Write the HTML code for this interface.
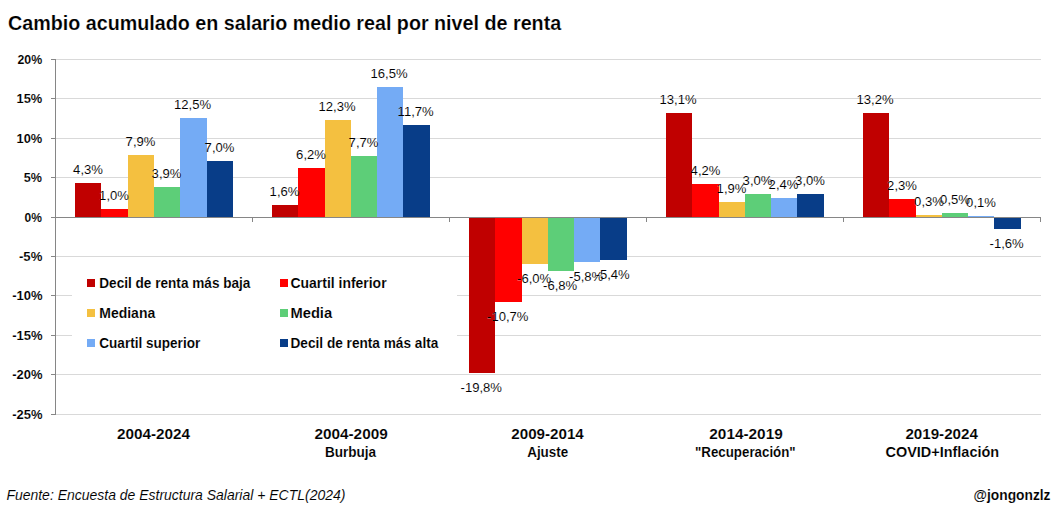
<!DOCTYPE html>
<html><head><meta charset="utf-8"><style>
html,body{margin:0;padding:0;background:#fff;width:1059px;height:517px;overflow:hidden}
svg{display:block}
text{font-family:"Liberation Sans",sans-serif;fill:#000}
</style></head><body>
<svg width="1059" height="517" viewBox="0 0 1059 517" shape-rendering="crispEdges">
<rect width="1059" height="517" fill="#fff"/>
<rect x="55" y="59" width="986" height="1" fill="#D9D9D9"/>
<rect x="55" y="98" width="986" height="1" fill="#D9D9D9"/>
<rect x="55" y="138" width="986" height="1" fill="#D9D9D9"/>
<rect x="55" y="177" width="986" height="1" fill="#D9D9D9"/>
<rect x="55" y="256" width="986" height="1" fill="#D9D9D9"/>
<rect x="55" y="295" width="986" height="1" fill="#D9D9D9"/>
<rect x="55" y="335" width="986" height="1" fill="#D9D9D9"/>
<rect x="55" y="374" width="986" height="1" fill="#D9D9D9"/>
<rect x="55" y="414" width="986" height="1" fill="#D9D9D9"/>
<rect x="75" y="183" width="26" height="34" fill="#C00000"/>
<rect x="101" y="209" width="27" height="8" fill="#FF0000"/>
<rect x="128" y="155" width="26" height="62" fill="#F4C040"/>
<rect x="154" y="187" width="26" height="30" fill="#5DCE78"/>
<rect x="180" y="118" width="27" height="99" fill="#74ABF5"/>
<rect x="207" y="161" width="26" height="56" fill="#083D88"/>
<rect x="272" y="205" width="26" height="12" fill="#C00000"/>
<rect x="298" y="168" width="27" height="49" fill="#FF0000"/>
<rect x="325" y="120" width="26" height="97" fill="#F4C040"/>
<rect x="351" y="156" width="26" height="61" fill="#5DCE78"/>
<rect x="377" y="87" width="26" height="130" fill="#74ABF5"/>
<rect x="403" y="125" width="27" height="92" fill="#083D88"/>
<rect x="469" y="217" width="26" height="156" fill="#C00000"/>
<rect x="495" y="217" width="27" height="85" fill="#FF0000"/>
<rect x="522" y="217" width="26" height="47" fill="#F4C040"/>
<rect x="548" y="217" width="26" height="54" fill="#5DCE78"/>
<rect x="574" y="217" width="26" height="45" fill="#74ABF5"/>
<rect x="600" y="217" width="27" height="43" fill="#083D88"/>
<rect x="666" y="113" width="26" height="104" fill="#C00000"/>
<rect x="692" y="184" width="27" height="33" fill="#FF0000"/>
<rect x="719" y="202" width="26" height="15" fill="#F4C040"/>
<rect x="745" y="194" width="26" height="23" fill="#5DCE78"/>
<rect x="771" y="198" width="26" height="19" fill="#74ABF5"/>
<rect x="797" y="194" width="27" height="23" fill="#083D88"/>
<rect x="863" y="113" width="26" height="104" fill="#C00000"/>
<rect x="889" y="199" width="27" height="18" fill="#FF0000"/>
<rect x="916" y="215" width="26" height="2" fill="#F4C040"/>
<rect x="942" y="213" width="26" height="4" fill="#5DCE78"/>
<rect x="968" y="216" width="26" height="1" fill="#74ABF5"/>
<rect x="994" y="217" width="27" height="12" fill="#083D88"/>
<rect x="55" y="217" width="986" height="1" fill="#868686"/>
<rect x="55" y="59" width="1" height="356" fill="#868686"/>
<rect x="51" y="59" width="4" height="1" fill="#868686"/>
<rect x="51" y="98" width="4" height="1" fill="#868686"/>
<rect x="51" y="138" width="4" height="1" fill="#868686"/>
<rect x="51" y="177" width="4" height="1" fill="#868686"/>
<rect x="51" y="217" width="4" height="1" fill="#868686"/>
<rect x="51" y="256" width="4" height="1" fill="#868686"/>
<rect x="51" y="295" width="4" height="1" fill="#868686"/>
<rect x="51" y="335" width="4" height="1" fill="#868686"/>
<rect x="51" y="374" width="4" height="1" fill="#868686"/>
<rect x="51" y="414" width="4" height="1" fill="#868686"/>
<rect x="55" y="217" width="1" height="5" fill="#868686"/>
<rect x="252" y="217" width="1" height="5" fill="#868686"/>
<rect x="449" y="217" width="1" height="5" fill="#868686"/>
<rect x="646" y="217" width="1" height="5" fill="#868686"/>
<rect x="843" y="217" width="1" height="5" fill="#868686"/>
<rect x="1040" y="217" width="1" height="5" fill="#868686"/>
<rect x="72" y="262" width="385" height="104" fill="#fff"/>
<rect x="87" y="279" width="8" height="8" fill="#C00000"/>
<rect x="87" y="309" width="8" height="8" fill="#F4C040"/>
<rect x="87" y="339" width="8" height="8" fill="#74ABF5"/>
<rect x="280" y="279" width="8" height="8" fill="#FF0000"/>
<rect x="280" y="309" width="8" height="8" fill="#5DCE78"/>
<rect x="280" y="339" width="8" height="8" fill="#083D88"/>
<g shape-rendering="auto">
<text x="7.96" y="29.90" font-weight="bold" stroke="#fff" stroke-width="0.17" font-size="21" textLength="553.22" lengthAdjust="spacingAndGlyphs">Cambio acumulado en salario medio real por nivel de renta</text>
<text x="17.50" y="63.70" font-weight="bold" stroke="#fff" stroke-width="0.10" font-size="13" textLength="24.73" lengthAdjust="spacingAndGlyphs">20%</text>
<text x="16.51" y="102.70" font-weight="bold" stroke="#fff" stroke-width="0.10" font-size="13" textLength="25.72" lengthAdjust="spacingAndGlyphs">15%</text>
<text x="16.51" y="142.70" font-weight="bold" stroke="#fff" stroke-width="0.10" font-size="13" textLength="25.72" lengthAdjust="spacingAndGlyphs">10%</text>
<text x="23.83" y="181.70" font-weight="bold" stroke="#fff" stroke-width="0.10" font-size="13" textLength="18.17" lengthAdjust="spacingAndGlyphs">5%</text>
<text x="24.60" y="221.70" font-weight="bold" stroke="#fff" stroke-width="0.10" font-size="13" textLength="17.41" lengthAdjust="spacingAndGlyphs">0%</text>
<text x="19.00" y="260.70" font-weight="bold" stroke="#fff" stroke-width="0.10" font-size="13" textLength="23.33" lengthAdjust="spacingAndGlyphs">-5%</text>
<text x="12.20" y="299.70" font-weight="bold" stroke="#fff" stroke-width="0.10" font-size="13" textLength="30.36" lengthAdjust="spacingAndGlyphs">-10%</text>
<text x="12.20" y="339.70" font-weight="bold" stroke="#fff" stroke-width="0.10" font-size="13" textLength="30.36" lengthAdjust="spacingAndGlyphs">-15%</text>
<text x="12.30" y="378.70" font-weight="bold" stroke="#fff" stroke-width="0.10" font-size="13" textLength="30.26" lengthAdjust="spacingAndGlyphs">-20%</text>
<text x="12.30" y="418.70" font-weight="bold" stroke="#fff" stroke-width="0.10" font-size="13" textLength="30.26" lengthAdjust="spacingAndGlyphs">-25%</text>
<text x="99.31" y="287.90" font-weight="bold" stroke="#fff" stroke-width="0.12" font-size="15.3" textLength="151.13" lengthAdjust="spacingAndGlyphs">Decil de renta más baja</text>
<text x="99.29" y="317.90" font-weight="bold" stroke="#fff" stroke-width="0.12" font-size="15.3" textLength="55.90" lengthAdjust="spacingAndGlyphs">Mediana</text>
<text x="99.31" y="347.90" font-weight="bold" stroke="#fff" stroke-width="0.12" font-size="15.3" textLength="100.90" lengthAdjust="spacingAndGlyphs">Cuartil superior</text>
<text x="290.49" y="287.90" font-weight="bold" stroke="#fff" stroke-width="0.12" font-size="15.3" textLength="96.07" lengthAdjust="spacingAndGlyphs">Cuartil inferior</text>
<text x="290.44" y="317.90" font-weight="bold" stroke="#fff" stroke-width="0.12" font-size="15.3" textLength="41.71" lengthAdjust="spacingAndGlyphs">Media</text>
<text x="290.51" y="347.90" font-weight="bold" stroke="#fff" stroke-width="0.12" font-size="15.3" textLength="147.81" lengthAdjust="spacingAndGlyphs">Decil de renta más alta</text>
<text x="117.00" y="438.70" font-weight="bold" stroke="#fff" stroke-width="0.12" font-size="15" textLength="73.13" lengthAdjust="spacingAndGlyphs">2004-2024</text>
<text x="314.40" y="438.70" font-weight="bold" stroke="#fff" stroke-width="0.12" font-size="15" textLength="73.35" lengthAdjust="spacingAndGlyphs">2004-2009</text>
<text x="325.00" y="456.70" font-weight="bold" stroke="#fff" stroke-width="0.12" font-size="15" textLength="51.11" lengthAdjust="spacingAndGlyphs">Burbuja</text>
<text x="511.30" y="438.70" font-weight="bold" stroke="#fff" stroke-width="0.12" font-size="15" textLength="72.43" lengthAdjust="spacingAndGlyphs">2009-2014</text>
<text x="527.20" y="456.70" font-weight="bold" stroke="#fff" stroke-width="0.12" font-size="15" textLength="41.06" lengthAdjust="spacingAndGlyphs">Ajuste</text>
<text x="709.30" y="438.70" font-weight="bold" stroke="#fff" stroke-width="0.12" font-size="15" textLength="73.45" lengthAdjust="spacingAndGlyphs">2014-2019</text>
<text x="695.01" y="456.70" font-weight="bold" stroke="#fff" stroke-width="0.12" font-size="15" textLength="100.68" lengthAdjust="spacingAndGlyphs">&quot;Recuperación&quot;</text>
<text x="905.40" y="438.70" font-weight="bold" stroke="#fff" stroke-width="0.12" font-size="15" textLength="72.43" lengthAdjust="spacingAndGlyphs">2019-2024</text>
<text x="885.54" y="456.70" font-weight="bold" stroke="#fff" stroke-width="0.12" font-size="15" textLength="113.57" lengthAdjust="spacingAndGlyphs">COVID+Inflación</text>
<text x="6.40" y="499.70" stroke="#fff" stroke-width="0.08" font-style="italic" font-size="15" textLength="338.99" lengthAdjust="spacingAndGlyphs">Fuente: Encuesta de Estructura Salarial + ECTL(2024)</text>
<text x="973.55" y="499.80" font-weight="bold" stroke="#fff" stroke-width="0.12" font-size="14.5" textLength="76.94" lengthAdjust="spacingAndGlyphs">@jongonzlz</text>
<text x="73.12" y="174.00" stroke="#fff" stroke-width="0.08" font-size="13" textLength="29.81" lengthAdjust="spacingAndGlyphs">4,3%</text>
<text x="99.12" y="200.00" stroke="#fff" stroke-width="0.08" font-size="13" textLength="29.81" lengthAdjust="spacingAndGlyphs">1,0%</text>
<text x="125.62" y="146.00" stroke="#fff" stroke-width="0.08" font-size="13" textLength="29.81" lengthAdjust="spacingAndGlyphs">7,9%</text>
<text x="151.62" y="178.00" stroke="#fff" stroke-width="0.08" font-size="13" textLength="29.81" lengthAdjust="spacingAndGlyphs">3,9%</text>
<text x="174.09" y="109.00" stroke="#fff" stroke-width="0.08" font-size="13" textLength="37.08" lengthAdjust="spacingAndGlyphs">12,5%</text>
<text x="204.62" y="152.00" stroke="#fff" stroke-width="0.08" font-size="13" textLength="29.81" lengthAdjust="spacingAndGlyphs">7,0%</text>
<text x="269.62" y="196.00" stroke="#fff" stroke-width="0.08" font-size="13" textLength="29.81" lengthAdjust="spacingAndGlyphs">1,6%</text>
<text x="296.12" y="159.00" stroke="#fff" stroke-width="0.08" font-size="13" textLength="29.81" lengthAdjust="spacingAndGlyphs">6,2%</text>
<text x="318.59" y="111.00" stroke="#fff" stroke-width="0.08" font-size="13" textLength="37.08" lengthAdjust="spacingAndGlyphs">12,3%</text>
<text x="348.62" y="147.00" stroke="#fff" stroke-width="0.08" font-size="13" textLength="29.81" lengthAdjust="spacingAndGlyphs">7,7%</text>
<text x="370.59" y="78.00" stroke="#fff" stroke-width="0.08" font-size="13" textLength="37.08" lengthAdjust="spacingAndGlyphs">16,5%</text>
<text x="397.60" y="116.00" stroke="#fff" stroke-width="0.08" font-size="13" textLength="36.11" lengthAdjust="spacingAndGlyphs">11,7%</text>
<text x="460.58" y="392.00" stroke="#fff" stroke-width="0.08" font-size="13" textLength="41.43" lengthAdjust="spacingAndGlyphs">-19,8%</text>
<text x="487.08" y="321.00" stroke="#fff" stroke-width="0.08" font-size="13" textLength="41.43" lengthAdjust="spacingAndGlyphs">-10,7%</text>
<text x="517.10" y="283.00" stroke="#fff" stroke-width="0.08" font-size="13" textLength="34.16" lengthAdjust="spacingAndGlyphs">-6,0%</text>
<text x="543.10" y="290.00" stroke="#fff" stroke-width="0.08" font-size="13" textLength="34.16" lengthAdjust="spacingAndGlyphs">-6,8%</text>
<text x="569.10" y="281.00" stroke="#fff" stroke-width="0.08" font-size="13" textLength="34.16" lengthAdjust="spacingAndGlyphs">-5,8%</text>
<text x="595.60" y="279.00" stroke="#fff" stroke-width="0.08" font-size="13" textLength="34.16" lengthAdjust="spacingAndGlyphs">-5,4%</text>
<text x="659.59" y="104.00" stroke="#fff" stroke-width="0.08" font-size="13" textLength="37.08" lengthAdjust="spacingAndGlyphs">13,1%</text>
<text x="690.62" y="175.00" stroke="#fff" stroke-width="0.08" font-size="13" textLength="29.81" lengthAdjust="spacingAndGlyphs">4,2%</text>
<text x="716.62" y="193.00" stroke="#fff" stroke-width="0.08" font-size="13" textLength="29.81" lengthAdjust="spacingAndGlyphs">1,9%</text>
<text x="742.62" y="185.00" stroke="#fff" stroke-width="0.08" font-size="13" textLength="29.81" lengthAdjust="spacingAndGlyphs">3,0%</text>
<text x="768.62" y="189.00" stroke="#fff" stroke-width="0.08" font-size="13" textLength="29.81" lengthAdjust="spacingAndGlyphs">2,4%</text>
<text x="795.12" y="185.00" stroke="#fff" stroke-width="0.08" font-size="13" textLength="29.81" lengthAdjust="spacingAndGlyphs">3,0%</text>
<text x="856.59" y="104.00" stroke="#fff" stroke-width="0.08" font-size="13" textLength="37.08" lengthAdjust="spacingAndGlyphs">13,2%</text>
<text x="887.12" y="190.00" stroke="#fff" stroke-width="0.08" font-size="13" textLength="29.81" lengthAdjust="spacingAndGlyphs">2,3%</text>
<text x="914.12" y="206.00" stroke="#fff" stroke-width="0.08" font-size="13" textLength="29.81" lengthAdjust="spacingAndGlyphs">0,3%</text>
<text x="940.12" y="204.00" stroke="#fff" stroke-width="0.08" font-size="13" textLength="29.81" lengthAdjust="spacingAndGlyphs">0,5%</text>
<text x="966.12" y="207.00" stroke="#fff" stroke-width="0.08" font-size="13" textLength="29.81" lengthAdjust="spacingAndGlyphs">0,1%</text>
<text x="989.60" y="248.00" stroke="#fff" stroke-width="0.08" font-size="13" textLength="34.16" lengthAdjust="spacingAndGlyphs">-1,6%</text>
</g>
</svg></body></html>
